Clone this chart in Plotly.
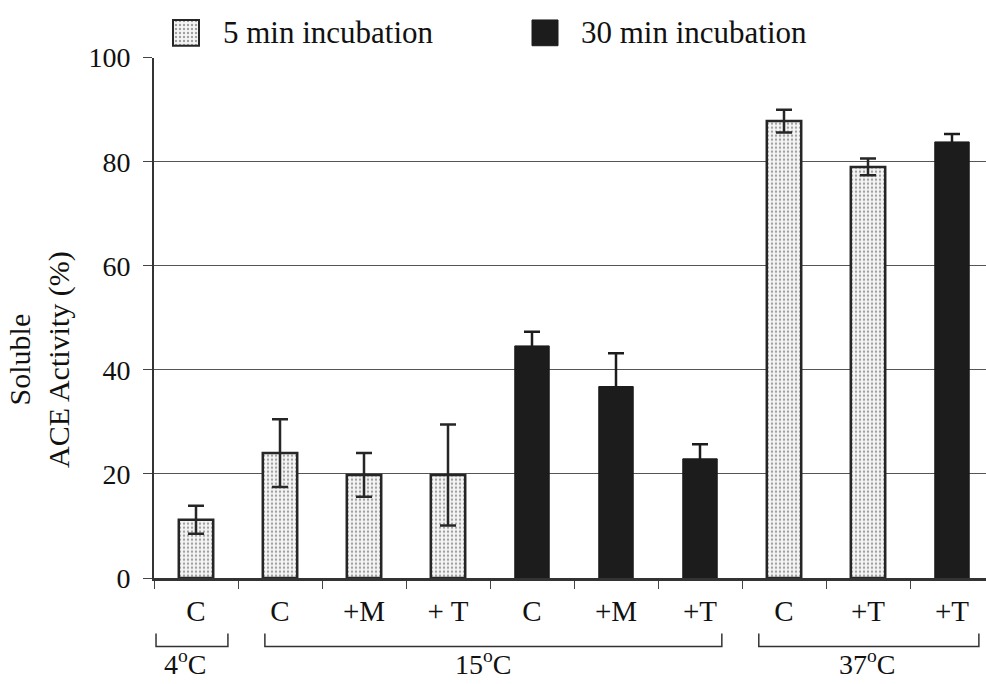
import plotly.graph_objects as go

# Soluble ACE activity after incubation at 4, 15 and 37 °C
tick_labels = ["C", "C", "+M", "+ T", "C", "+M", "+T", "C", "+T", "+T"]
five_min = [11.2, 24.0, 19.8, 19.8, None, None, None, 87.8, 79.0, None]
five_min_err = [2.7, 6.5, 4.2, 9.7, None, None, None, 2.2, 1.6, None]
thirty_min = [None, None, None, None, 44.6, 36.8, 22.9, None, None, 83.8]
thirty_min_err = [None, None, None, None, 2.7, 6.4, 2.8, None, None, 1.5]
groups = ["4<sup>o</sup>C", "15<sup>o</sup>C", "37<sup>o</sup>C"]
y_ticks = [0, 20, 40, 60, 80, 100]

FONT = "Liberation Serif"
DARK = "#262626"
SOLID = "#1c1c1c"
x = list(range(len(tick_labels)))

# page geometry (pixels)
W, H = 986, 684
ML, MR, MT, MB = 154, 0, 10, 106
PH = H - MT - MB
AX_TOP = 53  # pixel row of y = 100


def py(pix):
    """pixel row -> paper y"""
    return (H - MB - pix) / PH


stipple = dict(shape=".", bgcolor="#f5f5f5", fgcolor="#4a4a4a", size=4, solidity=0.28)

fig = go.Figure()
fig.add_trace(go.Bar(
    x=x, y=five_min, width=0.41, name="5 min incubation",
    marker=dict(color="#f5f5f5", pattern=stipple, line=dict(color=DARK, width=2.5)),
    error_y=dict(type="data", array=five_min_err, color=DARK, thickness=2.5, width=8),
    showlegend=False,
))
fig.add_trace(go.Bar(
    x=x, y=thirty_min, width=0.41, name="30 min incubation",
    marker=dict(color=SOLID, line=dict(color=SOLID, width=1)),
    error_y=dict(type="data", array=thirty_min_err, color=SOLID, thickness=2.5, width=8),
    showlegend=False,
))

# legend swatches drawn on their own pixel-scaled axes above the plot
sw_x = [186, 545]
fig.add_trace(go.Bar(
    x=[sw_x[0]], y=[26], base=[12], width=26, xaxis="x2", yaxis="y2",
    marker=dict(color="#f5f5f5", pattern=stipple, line=dict(color=DARK, width=2)),
    showlegend=False, hoverinfo="skip",
))
fig.add_trace(go.Bar(
    x=[sw_x[1]], y=[26], base=[12], width=26, xaxis="x2", yaxis="y2",
    marker=dict(color=SOLID, line=dict(color=SOLID, width=1)),
    showlegend=False, hoverinfo="skip",
))

annotations = [
    dict(x=221, y=25, xref="x2", yref="y2", text="5 min incubation", showarrow=False,
         xanchor="left", yanchor="middle", font=dict(family=FONT, size=31, color="#111")),
    dict(x=579, y=25, xref="x2", yref="y2", text="30 min incubation", showarrow=False,
         xanchor="left", yanchor="middle", font=dict(family=FONT, size=31, color="#111")),
    dict(x=(40 - ML) / (W - ML - MR), y=py(357), xref="paper", yref="paper",
         text="Soluble<br>ACE Activity (%)", textangle=-90, showarrow=False,
         xanchor="center", yanchor="middle",
         font=dict(family=FONT, size=30, color="#111")),
]

# temperature brackets under the category labels
brackets = [(-0.476, 0.38), (0.82, 6.26), (6.70, 9.32)]
label_x = [-0.13, 3.42, 7.99]
shapes = []
for (x0, x1), lx, g in zip(brackets, label_x, groups):
    shapes.append(dict(
        type="path", xref="x", yref="paper",
        path=f"M {x0},{py(634)} L {x0},{py(647)} L {x1},{py(647)} L {x1},{py(634)}",
        line=dict(color="#333", width=1.5),
    ))
    annotations.append(dict(
        x=lx, y=py(683), xref="x", yref="paper", text=g, showarrow=False,
        xanchor="center", yanchor="bottom", font=dict(family=FONT, size=28, color="#111"),
    ))

fig.update_layout(
    width=W, height=H,
    margin=dict(l=ML, r=MR, t=MT, b=MB),
    paper_bgcolor="white", plot_bgcolor="white",
    barmode="overlay",
    font=dict(family=FONT, size=29, color="#111"),
    xaxis=dict(
        range=[-0.5, -0.5 + (W - ML - MR) / 84.0],
        tickmode="array", tickvals=x, ticktext=tick_labels,
        ticks="", ticklabelstandoff=5,
        showline=True, linecolor="#333", linewidth=2.5,
        showgrid=False, zeroline=False,
        minor=dict(tickmode="array", tickvals=[i - 0.5 for i in range(11)],
                   ticks="outside", ticklen=8, tickcolor="#444", tickwidth=1.2),
        tickfont=dict(family=FONT, size=29, color="#111"),
        fixedrange=True,
    ),
    yaxis=dict(
        domain=[0, py(AX_TOP)],
        range=[0, 100], tickmode="array", tickvals=y_ticks,
        ticks="outside", ticklen=9, tickcolor="#444", tickwidth=1.2,
        ticklabelstandoff=7,
        showline=True, linecolor="#333", linewidth=2,
        showgrid=True, gridcolor="#555", gridwidth=1,
        zeroline=False,
        tickfont=dict(family=FONT, size=28, color="#111"),
    ),
    xaxis2=dict(domain=[0, 1], range=[ML, W - MR], visible=False, anchor="y2",
                fixedrange=True),
    yaxis2=dict(domain=[py(AX_TOP), 1], range=[0, AX_TOP - MT], visible=False,
                anchor="x2", fixedrange=True),
    shapes=shapes,
    annotations=annotations,
)

fig.write_html("out.html")
